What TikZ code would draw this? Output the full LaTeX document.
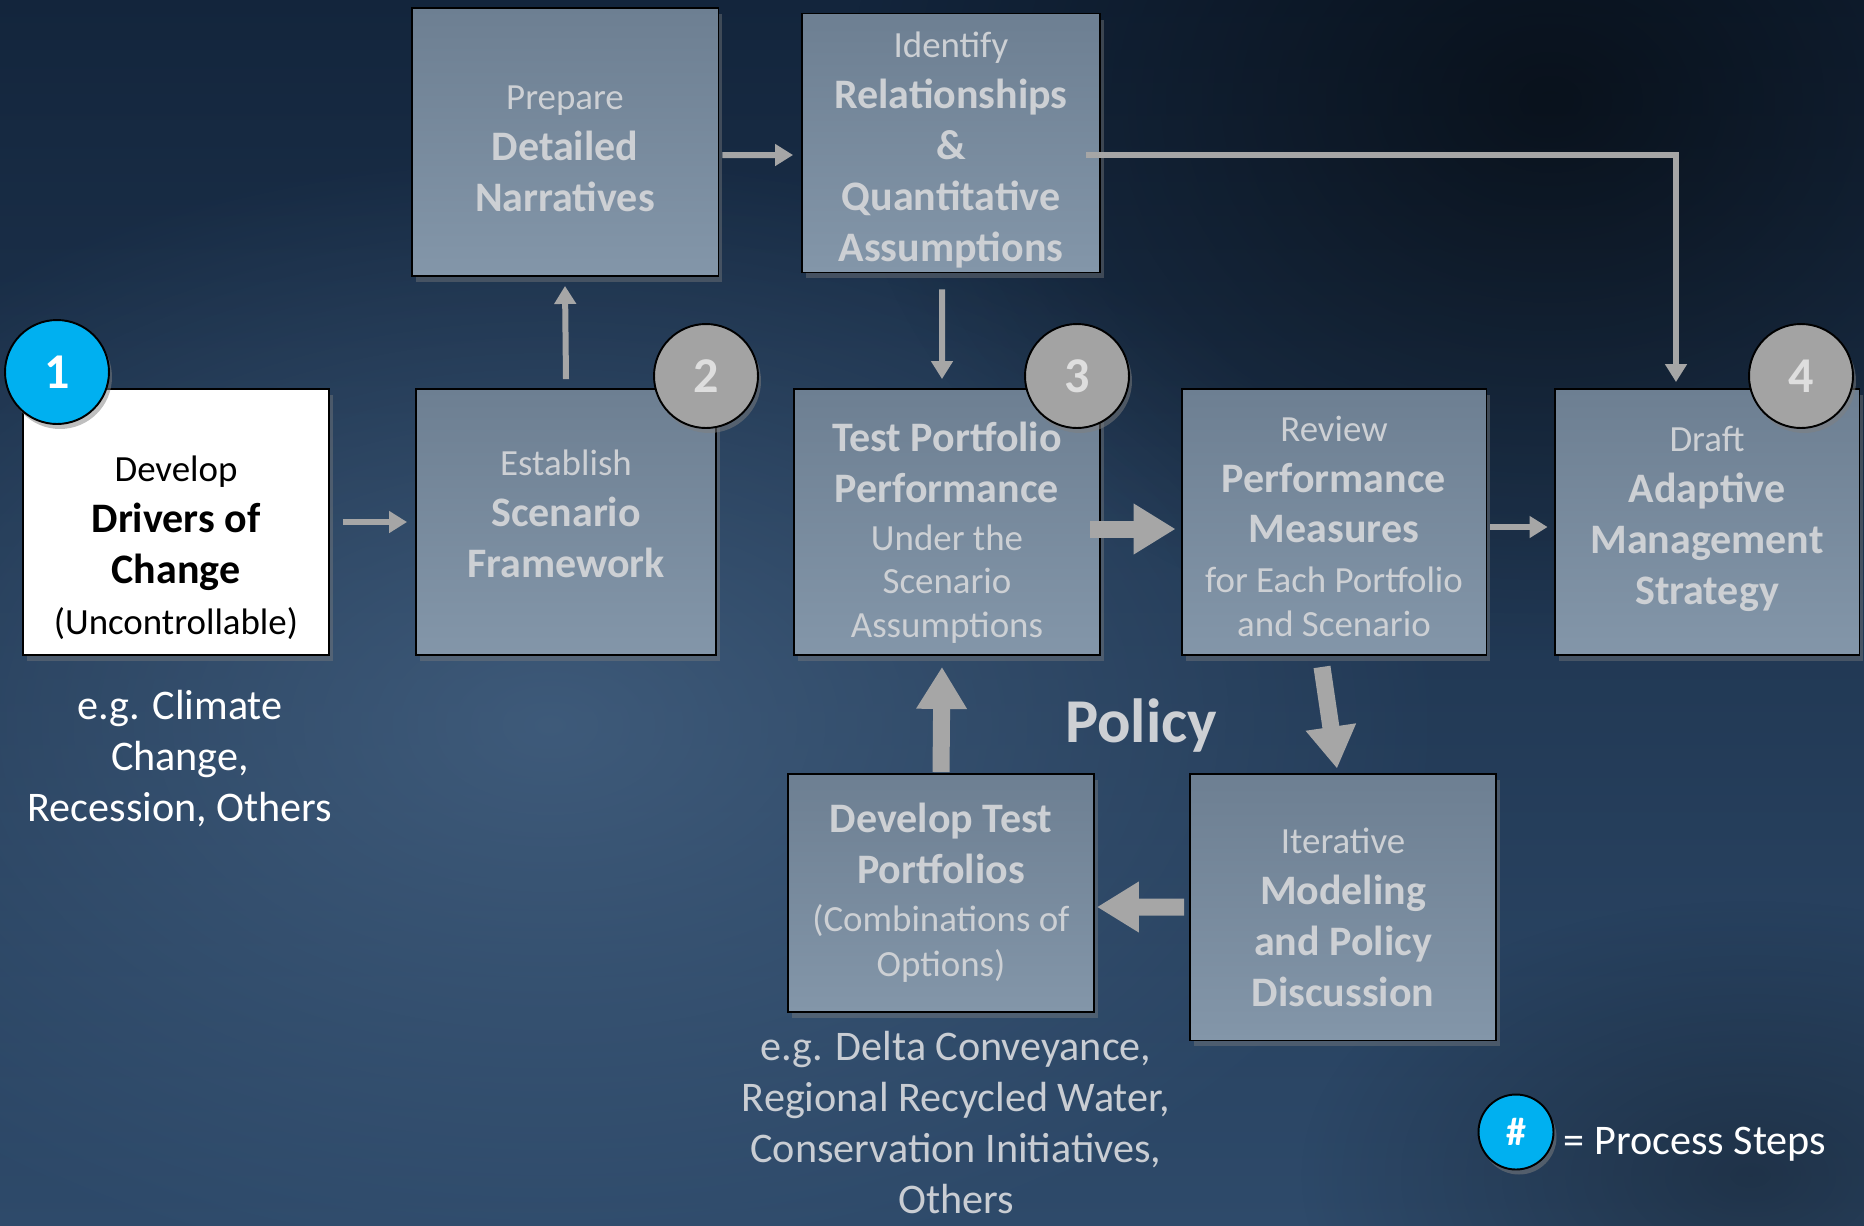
\documentclass[tikz,border=0pt]{standalone}
\usepackage{fontspec}
\setmainfont{Carlito}
\usetikzlibrary{positioning,arrows.meta,shadows,fadings}

\definecolor{bgtop}{HTML}{13253C}
\definecolor{bgbottom}{HTML}{2E4A6A}
\definecolor{bgglow}{HTML}{4A6889}
\definecolor{boxtop}{HTML}{6D7F92}
\definecolor{boxbottom}{HTML}{8396A9}
\definecolor{boxtext}{HTML}{CDD0D4}
\definecolor{arrowgray}{HTML}{A6A6A6}
\definecolor{stepgray}{HTML}{A3A3A3}
\definecolor{stepdigit}{HTML}{DEDEDE}
\definecolor{stepblue}{HTML}{00B0F0}
\definecolor{notegray}{HTML}{C9CDD3}

\newcommand{\txtreg}{\fontsize{21}{29}\selectfont}
\newcommand{\txtbold}{\fontsize{23.9}{29}\selectfont\bfseries}

\tikzfading[name=softglow, inner color=transparent!0, outer color=transparent!100]

\tikzset{
  stepbox/.style={rectangle, draw=black, line width=1.1pt, inner sep=0pt,
                  top color=boxtop, bottom color=boxbottom,
                  minimum width=6.12cm, minimum height=5.32cm,
                  drop shadow={opacity=0.4, shadow xshift=0.08cm, shadow yshift=-0.12cm}},
  whitebox/.style={stepbox, top color=white, bottom color=white},
  boxlabel/.style={align=center, inner sep=0pt, text=boxtext, font=\txtreg},
  stepcircle/.style={circle, draw=black, line width=1.1pt, fill=stepgray, minimum size=2.08cm,
                     inner sep=0pt, text=stepdigit, font=\fontsize{28.5}{30}\selectfont\bfseries,
                     drop shadow={opacity=0.5, shadow xshift=0.06cm, shadow yshift=-0.1cm}},
  bluecircle/.style={stepcircle, fill=stepblue, text=white},
  thinarrow/.style={draw=arrowgray, line width=0.12cm, -{Triangle[length=0.36cm, width=0.42cm]}},
  thickarrow/.style={draw=arrowgray, line width=0.34cm, -{Triangle[length=0.84cm, width=0.96cm]}},
  note/.style={align=center, inner sep=0pt, font=\fontsize{24}{29}\selectfont},
}

\begin{document}
\begin{tikzpicture}[x=0.02cm, y=-0.02cm]
  \useasboundingbox (0,0) rectangle (1864,1225);
  % background
  \shade[top color=bgtop, bottom color=bgbottom] (0,0) rectangle (1864,1225);
  \fill[bgglow, opacity=0.7, path fading=softglow] (-350,150) rectangle (1450,1300);
  \fill[black, opacity=0.55, path fading=softglow] (850,-450) rectangle (2250,650);
  \fill[black, opacity=0.3, path fading=softglow] (1300,900) rectangle (2200,1450);

  % boxes
  \node[whitebox] (drivers) at (176,522) {};
  \node[stepbox, minimum width=6cm] (framework) at (566,522) {};
  \node[stepbox, minimum width=6.14cm, minimum height=5.36cm] (narratives) at (565,142) {};
  \node[stepbox, minimum width=5.96cm, minimum height=5.18cm] (assumptions) at (951,143) {};
  \node[stepbox] (performance) at (947,522) {};
  \node[stepbox, minimum width=6.1cm] (measures) at (1334,522) {};
  \node[stepbox, minimum width=6.1cm] (strategy) at (1707,522) {};
  \node[stepbox, minimum height=4.76cm] (portfolios) at (941,893) {};
  \node[stepbox, minimum height=5.34cm] (discussion) at (1343,907) {};

  % box texts
  \node[boxlabel, text=black] (drivers-txt) at (176,548)
    {Develop\\{\txtbold Drivers of}\\{\txtbold Change}\\(Uncontrollable)};
  \node[boxlabel] (framework-txt) at (566,514)
    {Establish\\{\txtbold Scenario}\\{\txtbold Framework}};
  \node[boxlabel] (narratives-txt) at (565,149)
    {Prepare\\{\txtbold Detailed}\\{\txtbold Narratives}};
  \node[boxlabel] (assumptions-txt) at (951,150)
    {Identify\\{\txtbold Relationships}\\{\txtbold \&}\\{\txtbold Quantitative}\\{\txtbold Assumptions}};
  \node[boxlabel] (performance-txt) at (947,533)
    {{\txtbold Test Portfolio}\\{\txtbold Performance}\\[-2pt]Under the\\[-4pt]Scenario\\[-4pt]Assumptions};
  \node[boxlabel] (measures-txt) at (1334,526)
    {Review\\{\txtbold Performance}\\{\txtbold Measures}\\[-1pt]for Each Portfolio\\[-4pt]and Scenario};
  \node[boxlabel] (strategy-txt) at (1707,519)
    {Draft\\{\txtbold Adaptive}\\{\txtbold Management}\\{\txtbold Strategy}};
  \node[boxlabel] (portfolios-txt) at (941,893)
    {{\txtbold Develop Test}\\{\txtbold Portfolios}\\[-2pt](Combinations of\\[-3pt]Options)};
  \node[boxlabel] (discussion-txt) at (1343,917)
    {Iterative\\{\txtbold Modeling}\\{\txtbold and Policy}\\{\txtbold Discussion}};

  % connectors
  \draw[thinarrow] ([xshift=0.26cm]drivers.east) -- ([xshift=-0.16cm]framework.west);
  \draw[thinarrow] ([yshift=0.18cm]framework.north) -- ([yshift=-0.18cm]narratives.south);
  \draw[thinarrow] ([shift={(0.06cm,-0.26cm)}]narratives.east) -- ([shift={(-0.16cm,-0.24cm)}]assumptions.west);
  \draw[thinarrow] ([shift={(-0.18cm,-0.32cm)}]assumptions.south) -- ([shift={(-0.1cm,0.18cm)}]performance.north);
  \draw[thinarrow] ([shift={(-0.3cm,-0.24cm)}]assumptions.east) -| ([shift={(-0.62cm,0.12cm)}]strategy.north);
  \draw[thickarrow] ([shift={(-0.22cm,-0.14cm)}]performance.east) -- ([shift={(-0.1cm,-0.14cm)}]measures.west);
  \draw[thinarrow] ([shift={(0.06cm,-0.1cm)}]measures.east) -- ([shift={(-0.12cm,-0.1cm)}]strategy.west);
  \draw[thickarrow] ([shift={(-0.24cm,-0.22cm)}]measures.south) -- ([shift={(-0.12cm,0.08cm)}]discussion.north);
  \draw[thickarrow] ([xshift=-0.1cm]discussion.west) -- ([shift={(0.04cm,-0.28cm)}]portfolios.east);
  \draw[thickarrow] ([yshift=0.02cm]portfolios.north) -- ([shift={(-0.1cm,-0.22cm)}]performance.south);

  % step markers
  \node[bluecircle] (step1) at (57,372) {1};
  \node[stepcircle] (step2) at (706,376) {2};
  \node[stepcircle] (step3) at (1077,376) {3};
  \node[stepcircle] (step4) at (1801,376) {4};

  % notes
  \node[note, text=white, below=0.68cm of drivers, xshift=0.08cm] (climate)
    {e.g. Climate\\Change,\\Recession, Others};
  \node[note, text=notegray, below=0.36cm of portfolios, xshift=0.3cm] (options)
    {e.g. Delta Conveyance,\\Regional Recycled Water,\\Conservation Initiatives,\\Others};
  \node[inner sep=0pt, text=boxtext, font=\fontsize{35.5}{40}\selectfont\bfseries] (policy) at (1141,726) {Policy};

  % legend
  \node[bluecircle, minimum size=1.5cm, font=\fontsize{22.7}{24}\selectfont\bfseries] (legend) at (1516,1132) {\#};
  \node[note, text=white, right=0.18cm of legend, yshift=-0.24cm] (legend-txt) {= Process Steps};
\end{tikzpicture}
\end{document}
